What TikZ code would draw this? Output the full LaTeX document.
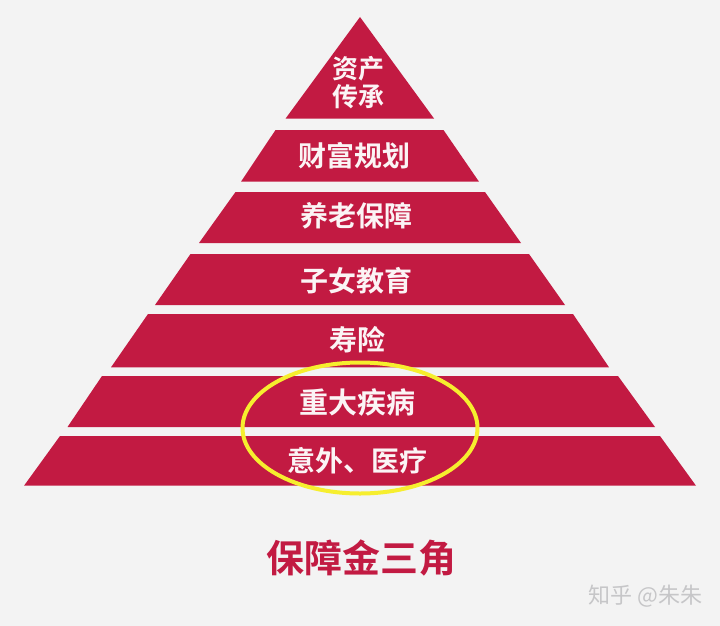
\documentclass[tikz,border=0pt]{standalone}
\usepackage{fontspec}
\newfontfamily\cjkbold{Noto Sans CJK SC Bold}
\newfontfamily\cjklight{Noto Sans CJK SC}
\tikzset{
	layer/.style={fill=pyramidred},
	layerlabel/.style={text=labelwhite,font=\cjkbold\fontsize{28}{31}\selectfont,align=center,inner sep=0pt},
}
\begin{document}
\begin{tikzpicture}[x=1pt,y=-1pt]
					\definecolor{pyramidred}{HTML}{C21A42}
					\definecolor{labelwhite}{HTML}{FBF4F5}
					\definecolor{paper}{HTML}{F3F3F3}
					\definecolor{ringyellow}{HTML}{F6EE2E}
					\definecolor{markgray}{HTML}{C6C6C8}
					\fill[paper] (0,0) rectangle (720,626);
					\useasboundingbox (0,0) rectangle (720,626);
					
					\fill[layer] (360,17) -- (434,118.5) -- (285.6,118.5) -- cycle;
					\fill[layer] (275.5,130) -- (443.5,130) -- (479,181.7) -- (241,181.7) -- cycle;
					\fill[layer] (235.5,192) -- (485,192) -- (521,243) -- (199,243) -- cycle;
					\fill[layer] (190.5,254) -- (529,254) -- (565,305) -- (155,305) -- cycle;
					\fill[layer] (148,314) -- (573,314) -- (609,367.3) -- (111,367.3) -- cycle;
					\fill[layer] (102,376) -- (618,376) -- (655,427) -- (67.5,427) -- cycle;
					\fill[layer] (60,436) -- (660,436) -- (696,485.7) -- (24,485.7) -- cycle;
					
					\node[layerlabel,font=\cjkbold\fontsize{26}{28}\selectfont] (asset) at (358.5,83) {资产\\传承};
					\node[layerlabel] (wealth) at (354.5,156) {财富规划};
					\node[layerlabel] (pension) at (356.5,216) {养老保障};
					\node[layerlabel] (child) at (356,281) {子女教育};
					\node[layerlabel] (life) at (357,340) {寿险};
					\node[layerlabel,font=\cjkbold\fontsize{29}{31}\selectfont] (illness) at (357.5,402) {重大疾病};
					\node[layerlabel] (accident) at (357.5,461) {意外、医疗};
					
					\draw[ringyellow,line width=4pt] (360,428) ellipse (117.5 and 65.5);
					
					\node[text=pyramidred,font=\cjkbold\fontsize{38}{41}\selectfont,inner sep=0pt] (title) at (361.5,558) {保障金三角};
					\node[text=markgray,font=\cjklight\fontsize{22}{25}\selectfont,inner sep=0pt] (mark) at (645.5,596) {知乎 @朱朱};
				\end{tikzpicture}
\end{document}
